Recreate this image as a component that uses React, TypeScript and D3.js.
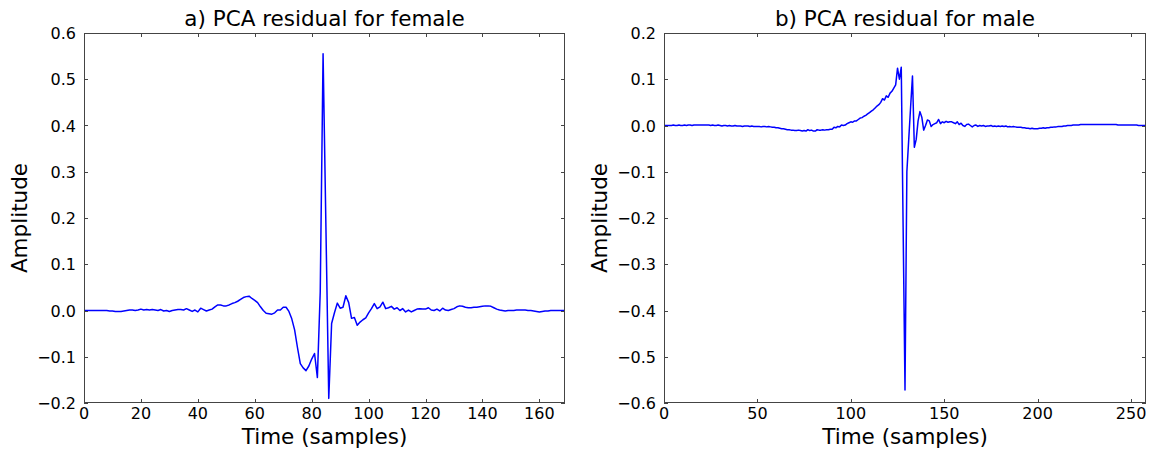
import React from "react";
import * as d3 from "d3";

const femaleResidual: number[] = [
  0, 0, 0, 0, 0, 0, 0, 0, 0, -0.001,
  -0.001, -0.002, -0.002, -0.002, -0.001, 0, 0.001, 0.001, 0.0, 0.001,
  0.003, 0.001, 0.002, 0.001, 0.002, 0.001, 0.0, 0.002, -0.001, 0.0,
  -0.002, 0.0, 0.001, 0.002, 0.002, 0.001, 0.004, 0.001, -0.002, 0.001,
  -0.003, 0.005, 0.002, -0.001, 0.001, 0.003, 0.008, 0.012, 0.012, 0.01,
  0.01, 0.012, 0.015, 0.017, 0.02, 0.024, 0.028, 0.03, 0.031, 0.026,
  0.022, 0.017, 0.008, 0.0, -0.006, -0.007, -0.008, -0.005, 0.001, 0.001,
  0.007, 0.007, -0.002, -0.018, -0.042, -0.08, -0.115, -0.124, -0.13, -0.12,
  -0.105, -0.093, -0.145, 0.04, 0.555, 0.18, -0.19, -0.028, -0.005, 0.016,
  0.005, 0.007, 0.032, 0.017, -0.017, -0.015, -0.032, -0.025, -0.02, -0.016,
  -0.005, 0.004, 0.015, 0.004, 0.008, 0.018, 0.004, 0.006, 0.009, 0.003,
  0.006, 0.0, 0.004, -0.003, 0.001, -0.003, 0.0, 0.003, 0.004, 0.003,
  0.003, 0.006, 0.001, 0.0, 0.003, -0.001, 0.005, 0.001, 0.0, 0.002,
  0.004, 0.008, 0.01, 0.009, 0.007, 0.006, 0.006, 0.007, 0.007, 0.008,
  0.009, 0.01, 0.01, 0.009, 0.006, 0.003, 0.001, 0.0, -0.001, 0.0,
  0.0, 0.0, 0.001, 0.001, 0.001, 0.001, 0.0, 0.0, -0.001, -0.002,
  -0.003, -0.002, -0.001, -0.001, 0.0, 0.0, 0.0, 0.0, 0.0, 0.0,
];

const maleResidual: number[] = [
  0, 0, 0, 0, 0, 0.001, 0, 0, 0.001, 0,
  0, 0.001, 0, 0.001, 0.001, 0, 0.001, 0.001, 0.001, 0.001,
  0.001, 0.001, 0.001, 0.001, 0.001, 0.0, 0.001, 0, 0, 0.001,
  0, -0.001, 0, 0, -0.001, 0, -0.001, -0.001, 0, -0.001,
  -0.001, -0.001, -0.002, -0.001, -0.001, -0.001, -0.002, -0.001, -0.002, -0.002,
  -0.002, -0.002, -0.003, -0.002, -0.002, -0.003, -0.002, -0.003, -0.004, -0.004,
  -0.005, -0.005, -0.006, -0.007, -0.007, -0.008, -0.009, -0.009, -0.01, -0.01,
  -0.011, -0.011, -0.01, -0.011, -0.012, -0.011, -0.012, -0.009, -0.011, -0.01,
  -0.012, -0.012, -0.009, -0.01, -0.01, -0.009, -0.01, -0.009, -0.009, -0.008,
  -0.008, -0.004, -0.005, -0.002, -0.003, 0.001, 0.0, 0.001, 0.004, 0.006,
  0.008, 0.007, 0.01, 0.01, 0.013, 0.016, 0.017, 0.02, 0.022, 0.025,
  0.028, 0.031, 0.034, 0.038, 0.042, 0.045, 0.05, 0.058, 0.055, 0.064,
  0.061, 0.07, 0.074, 0.081, 0.088, 0.124, 0.1, 0.126, -0.22, -0.572,
  -0.1, -0.03, 0.04, 0.107, -0.047, -0.03, 0.01, 0.03, 0.018, -0.01,
  0.0, 0.012, 0.01, -0.002, 0.002, 0.004, 0.006, 0.013, 0.004, 0.008,
  0.006, 0.009, 0.007, 0.008, 0.008, 0.006, 0.004, 0.008, 0.002, 0.005,
  0.0, -0.002, 0.002, 0.003, 0.0, -0.003, 0.0, 0.001, -0.002, 0.0,
  -0.001, 0.0, -0.002, -0.001, -0.001, 0.0, -0.002, -0.001, -0.002, -0.001,
  -0.002, -0.001, -0.002, -0.001, -0.003, -0.002, -0.003, -0.002, -0.003, -0.004,
  -0.004, -0.004, -0.005, -0.005, -0.006, -0.006, -0.007, -0.006, -0.007, -0.007,
  -0.007, -0.006, -0.006, -0.005, -0.006, -0.005, -0.005, -0.004, -0.004, -0.003,
  -0.003, -0.002, -0.002, -0.002, -0.001, -0.001, 0.0, 0.0, 0.0, 0.001,
  0.001, 0.001, 0.001, 0.002, 0.002, 0.002, 0.002, 0.002, 0.002, 0.002,
  0.002, 0.002, 0.002, 0.002, 0.002, 0.002, 0.002, 0.002, 0.002, 0.002,
  0.002, 0.002, 0.002, 0.001, 0.001, 0.001, 0.001, 0.001, 0.001, 0.001,
  0.001, 0.001, 0.001, 0.001, 0.0, 0.0, 0.0, 0.0, 0.0,
];

const femaleXTicks = [0, 20, 40, 60, 80, 100, 120, 140, 160];
const femaleYTicks = [-0.2, -0.1, 0.0, 0.1, 0.2, 0.3, 0.4, 0.5, 0.6];
const maleXTicks = [0, 50, 100, 150, 200, 250];
const maleYTicks = [-0.6, -0.5, -0.4, -0.3, -0.2, -0.1, 0.0, 0.1, 0.2];

const FONT = "'DejaVu Sans', sans-serif";

function fmtY(v: number) {
  const s = Math.abs(v).toFixed(1);
  return v < -1e-9 ? "\u2212" + s : s;
}

type PanelProps = {
  left: number;
  right: number;
  top: number;
  bottom: number;
  data: number[];
  xDomain: [number, number];
  yDomain: [number, number];
  xTicks: number[];
  yTicks: number[];
  title: string;
};

function Panel(p: PanelProps) {
  const x = d3.scaleLinear().domain(p.xDomain).range([p.left, p.right]);
  const y = d3.scaleLinear().domain(p.yDomain).range([p.bottom, p.top]);
  const line = d3
    .line<number>()
    .x((_, i) => x(i))
    .y((d) => y(d));
  const tl = 4;
  const frame = "#444";
  return (
    <g>
      <defs>
        <clipPath id={"clip" + p.left}>
          <rect x={p.left} y={p.top} width={p.right - p.left} height={p.bottom - p.top} />
        </clipPath>
      </defs>
      <path
        d={line(p.data) || ""}
        fill="none"
        stroke="#0000ff"
        strokeWidth={1.5}
        strokeLinejoin="round"
        clipPath={`url(#clip${p.left})`}
      />
      <rect
        x={p.left + 0.5}
        y={p.top + 0.5}
        width={p.right - p.left - 1}
        height={p.bottom - p.top - 1}
        fill="none"
        stroke={frame}
        strokeWidth={1}
      />
      {p.xTicks.map((t) => {
        const xx = Math.round(x(t)) + 0.5;
        return (
          <g key={"x" + t}>
            <line x1={xx} x2={xx} y1={p.bottom} y2={p.bottom - tl} stroke={frame} />
            <line x1={xx} x2={xx} y1={p.top} y2={p.top + tl} stroke={frame} />
            <text
              x={x(t)}
              y={p.bottom + 16}
              fontSize={16}
              fontFamily={FONT}
              textAnchor="middle"
              fill="#000"
            >
              {t}
            </text>
          </g>
        );
      })}
      {p.yTicks.map((t) => {
        const yy = Math.round(y(t)) + 0.5;
        return (
          <g key={"y" + t}>
            <line x1={p.left} x2={p.left + tl} y1={yy} y2={yy} stroke={frame} />
            <line x1={p.right} x2={p.right - tl} y1={yy} y2={yy} stroke={frame} />
            <text
              x={p.left - 8}
              y={y(t) + 6}
              fontSize={16}
              fontFamily={FONT}
              textAnchor="end"
              fill="#000"
            >
              {fmtY(t)}
            </text>
          </g>
        );
      })}
      <text
        x={(p.left + p.right) / 2}
        y={26}
        fontSize={21.5}
        fontFamily={FONT}
        textAnchor="middle"
        fill="#000"
      >
        {p.title}
      </text>
      <text
        x={(p.left + p.right) / 2}
        y={444}
        fontSize={21.5}
        fontFamily={FONT}
        textAnchor="middle"
        fill="#000"
      >
        Time (samples)
      </text>
      <text
        transform={`translate(${p.left - 57},${(p.top + p.bottom) / 2}) rotate(-90)`}
        fontSize={21.5}
        fontFamily={FONT}
        textAnchor="middle"
        fill="#000"
      >
        Amplitude
      </text>
    </g>
  );
}

export default function App() {
  return (
    <svg
      width={1152}
      height={450}
      style={{ position: "absolute", left: 0, top: 0, background: "#fff" }}
    >
      <rect x={0} y={0} width={1152} height={450} fill="#fff" />
      <Panel
        left={84}
        right={565}
        top={33}
        bottom={403}
        data={femaleResidual}
        xDomain={[0, 169]}
        yDomain={[-0.2, 0.6]}
        xTicks={femaleXTicks}
        yTicks={femaleYTicks}
        title="a) PCA residual for female"
      />
      <Panel
        left={664}
        right={1146}
        top={33}
        bottom={403}
        data={maleResidual}
        xDomain={[0, 258]}
        yDomain={[-0.6, 0.2]}
        xTicks={maleXTicks}
        yTicks={maleYTicks}
        title="b) PCA residual for male"
      />
    </svg>
  );
}
